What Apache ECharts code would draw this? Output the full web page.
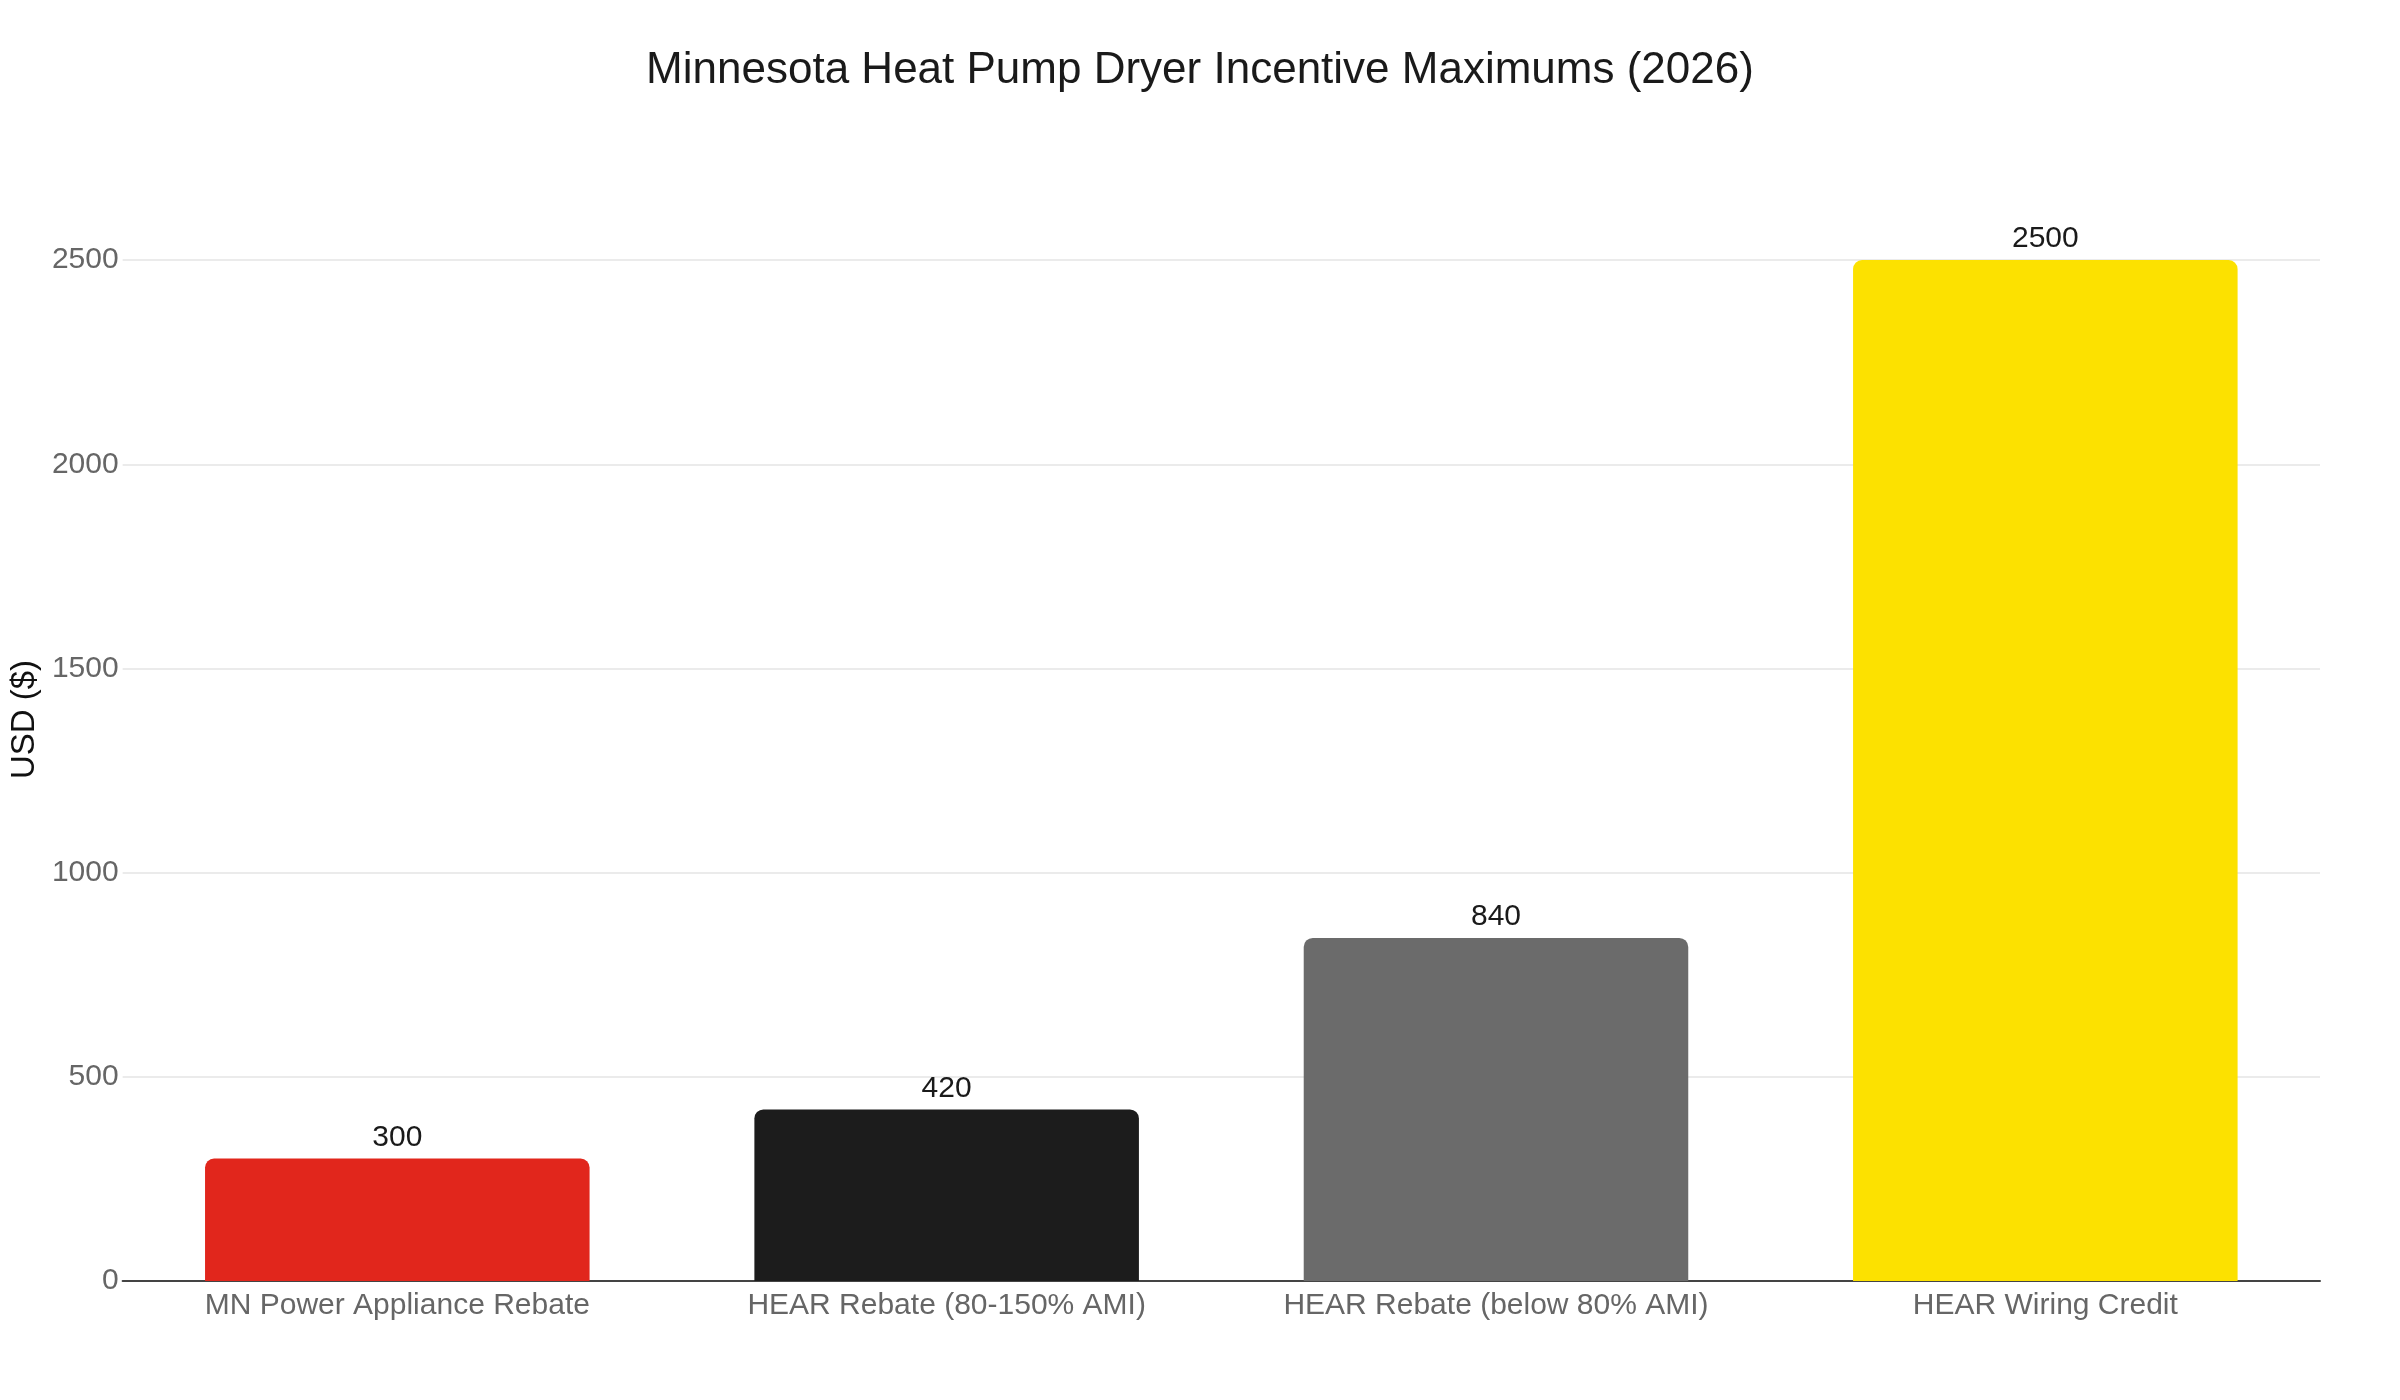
<!DOCTYPE html>
<html>
<head>
<meta charset="utf-8">
<title>Minnesota Heat Pump Dryer Incentive Maximums (2026)</title>
<script src="https://cdn.jsdelivr.net/npm/echarts@6/dist/echarts.min.js"></script>
<style>
  html, body { margin: 0; padding: 0; background: #fff; }
  #chart { width: 2400px; height: 1400px; }
</style>
</head>
<body>
<div id="chart"></div>
<script>
// dados do gráfico
const categorias = [
  'MN Power Appliance Rebate',
  'HEAR Rebate (80-150% AMI)',
  'HEAR Rebate (below 80% AMI)',
  'HEAR Wiring Credit'
];
const valores = [300, 420, 840, 2500];
const cores = ['#E1261C', '#1C1C1C', '#6B6B6B', '#FCE100'];
const yTicks = [0, 500, 1000, 1500, 2000, 2500];

const fonte = '"Liberation Sans", Arial, Helvetica, sans-serif';

const chart = echarts.init(document.getElementById('chart'));

const option = {
  backgroundColor: '#fff',
  animation: false,
  title: {
    text: 'Minnesota Heat Pump Dryer Incentive Maximums (2026)',
    left: 'center',
    top: 44,
    textStyle: { fontFamily: fonte, fontSize: 44, fontWeight: 'normal', color: '#1a1a1a' }
  },
  grid: { left: 120, right: 80, top: 158, bottom: 119 },
  xAxis: {
    type: 'category',
    data: categorias,
    axisLine: { lineStyle: { color: '#444', width: 2 } },
    axisTick: { show: false },
    axisLabel: { fontFamily: fonte, fontSize: 30, color: '#666', margin: 10, interval: 0 }
  },
  yAxis: {
    type: 'value',
    min: 0,
    max: 2750,
    interval: 500,
    name: 'USD ($)',
    nameLocation: 'middle',
    nameRotate: 90,
    nameGap: 76,
    nameTextStyle: { fontFamily: fonte, fontSize: 33, color: '#111' },
    axisLine: { show: false },
    axisTick: { show: false },
    axisLabel: {
      fontFamily: fonte, fontSize: 30, color: '#666', margin: 4,
      showMaxLabel: false,
      // só mostra os ticks da lista
      formatter: v => (yTicks.includes(v) ? String(v) : '')
    },
    splitLine: { showMaxLine: false, lineStyle: { color: '#e5e5e5', width: 1.5 } }
  },
  series: [
    {
      type: 'bar',
      barWidth: '70%',
      data: valores.map((v, i) => ({
        value: v,
        itemStyle: { color: cores[i], borderRadius: [9, 9, 0, 0] }
      })),
      label: {
        show: true,
        position: 'top',
        distance: 6,
        fontFamily: fonte,
        fontSize: 30,
        color: '#1a1a1a'
      }
    }
  ]
};

chart.setOption(option);
</script>
</body>
</html>
